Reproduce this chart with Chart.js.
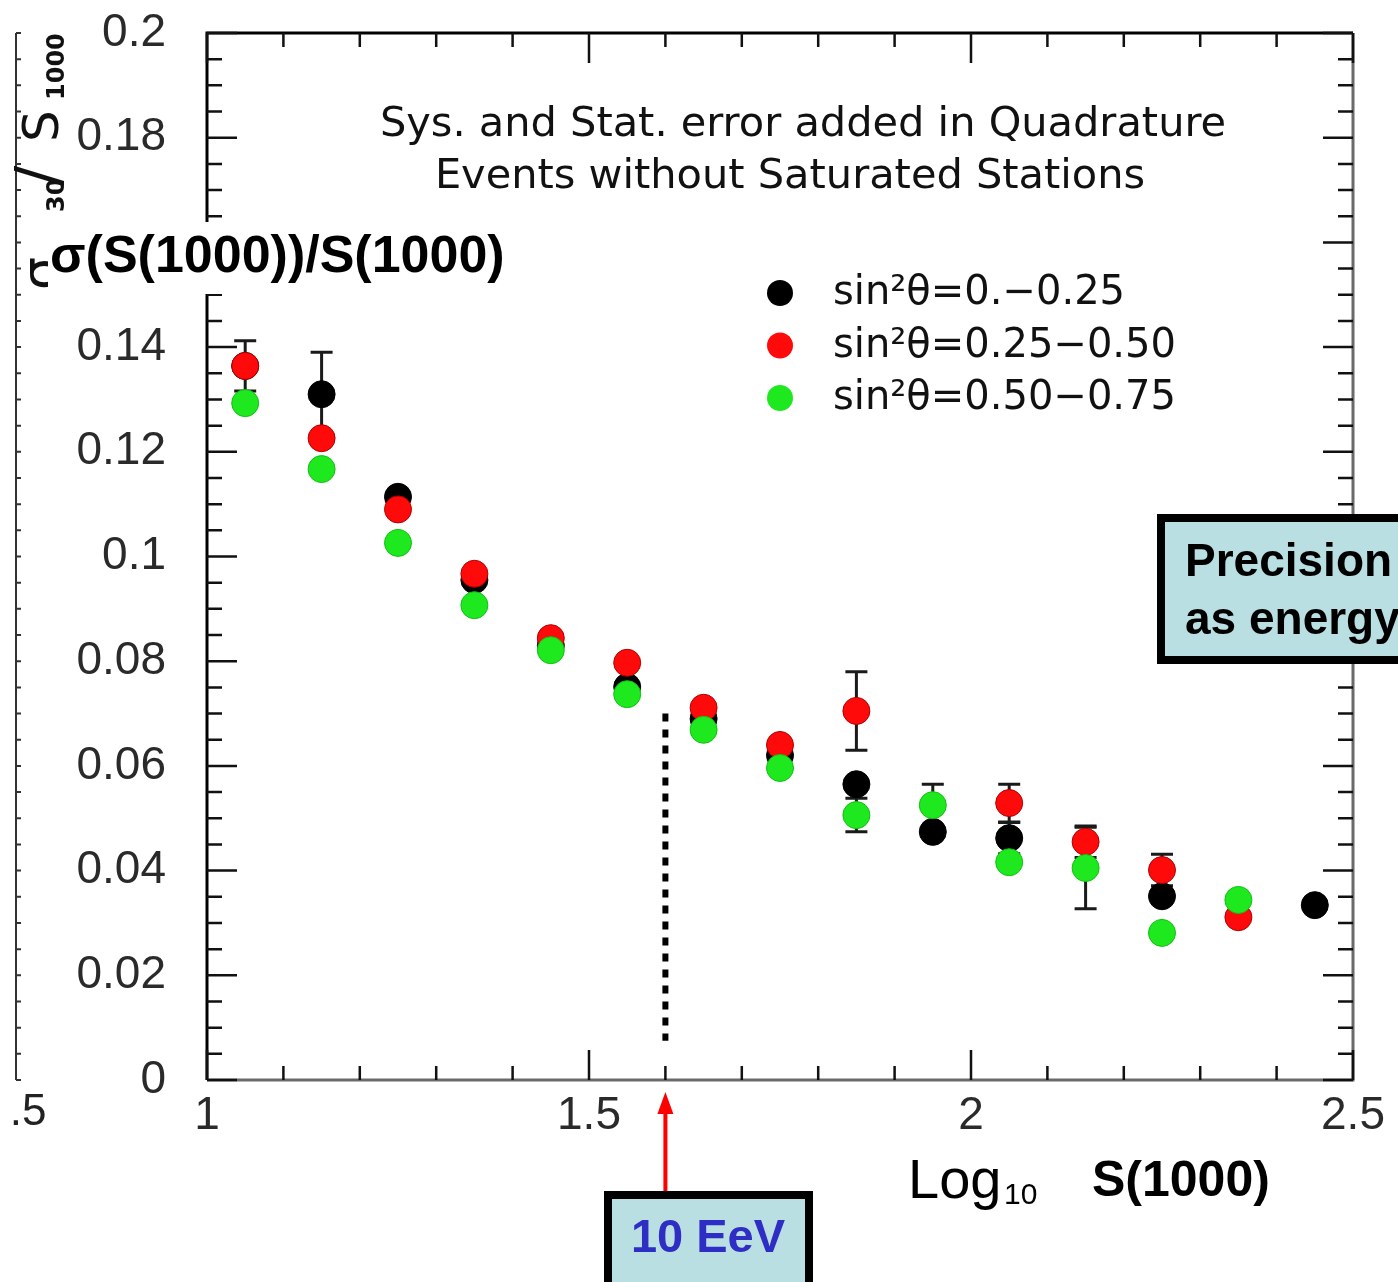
<!DOCTYPE html>
<html>
<head>
<meta charset="utf-8">
<script src="https://cdn.jsdelivr.net/npm/chart.js@4.4.0/dist/chart.umd.min.js"></script>
<style>
  html, body { margin: 0; padding: 0; background: #fff; overflow: hidden; }
</style>
</head>
<body>
<canvas id="chart" width="1398" height="1282"></canvas>
<script>
// log10 S(1000) bin centres
const logS = [1.05, 1.15, 1.25, 1.35, 1.45, 1.55, 1.65, 1.75, 1.85, 1.95, 2.05, 2.15, 2.25, 2.35, 2.45];

// sigma(S1000)/S1000 per zenith band (null = not visible)
const band1 = [0.1364, 0.1310, 0.1114, 0.0955, 0.0830, 0.0751, 0.0690, 0.0620, 0.0565, 0.0474, 0.0462, null, 0.0351, null, 0.0334];
const band2 = [0.1364, 0.1226, 0.1090, 0.0967, 0.0844, 0.0797, 0.0711, 0.0640, 0.0705, null, 0.0529, 0.0455, 0.0401, 0.0311, null];
const band3 = [0.1293, 0.1167, 0.1026, 0.0907, 0.0821, 0.0737, 0.0669, 0.0596, 0.0506, 0.0525, 0.0416, 0.0405, 0.0281, 0.0344, null];

// error bars that stick out of the markers
const band1Err = [0.0048, 0.0080, null, null, null, null, null, null, null, null, 0.0030, null, null, null, null];
const band2Err = [null, null, null, null, null, null, null, null, 0.0075, null, 0.0036, 0.0030, 0.0030, null, null];
const band3Err = [null, null, null, null, null, null, null, null, 0.0032, 0.0040, null, 0.0078, null, null, null];

const bandLabels = ["sin\u00b2\u03b8=0.\u22120.25", "sin\u00b2\u03b8=0.25\u22120.50", "sin\u00b2\u03b8=0.50\u22120.75"];
const bandColors = ["#000000", "#ff0a0a", "#1ee81e"];
const bandEdges = ["#000000", "#b00000", "#12c012"];

// 10 EeV marker position
const eevLogS = 1.6;
const eevTop = 0.07;
const eevBottom = 0.0075;

function points(vals) {
  return logS.map((s, i) => ({ x: s, y: vals[i] })).filter(p => p.y !== null);
}

const values = [band1, band2, band3];
const errors = [band1Err, band2Err, band3Err];

const errorBars = {
  id: "errorBars",
  beforeDatasetsDraw(chart) {
    const { ctx, scales: { x, y } } = chart;
    ctx.save();
    ctx.strokeStyle = "#1a1a1a";
    ctx.lineWidth = 3;
    values.forEach((vals, k) => {
      errors[k].forEach((e, i) => {
        if (e === null || vals[i] === null) return;
        const px = x.getPixelForValue(logS[i]);
        const top = y.getPixelForValue(vals[i] + e);
        const bot = y.getPixelForValue(vals[i] - e);
        ctx.beginPath();
        ctx.moveTo(px, top); ctx.lineTo(px, bot);
        ctx.moveTo(px - 11, top); ctx.lineTo(px + 11, top);
        ctx.moveTo(px - 11, bot); ctx.lineTo(px + 11, bot);
        ctx.stroke();
      });
    });
    ctx.restore();
  }
};

const frame = {
  id: "frame",
  beforeDatasetsDraw(chart) {
    const { ctx, chartArea: a, scales: { x, y } } = chart;
    ctx.save();
    ctx.lineWidth = 3;
    ctx.strokeStyle = "#000";
    ctx.beginPath();
    ctx.moveTo(a.left, a.bottom); ctx.lineTo(a.left, a.top); ctx.lineTo(a.right, a.top);
    ctx.stroke();
    ctx.strokeStyle = "#6a6a6a";
    ctx.beginPath();
    ctx.moveTo(a.left, a.bottom); ctx.lineTo(a.right, a.bottom); ctx.lineTo(a.right, a.top);
    ctx.stroke();

    ctx.lineWidth = 2.5;
    ctx.strokeStyle = "#111";
    for (let i = 0; i <= 15; i++) {
      const px = x.getPixelForValue(1 + i * 0.1);
      const len = i % 5 === 0 ? 30 : 14;
      ctx.beginPath();
      ctx.moveTo(px, a.bottom); ctx.lineTo(px, a.bottom - len);
      ctx.moveTo(px, a.top); ctx.lineTo(px, a.top + len);
      ctx.stroke();
    }
    for (let j = 0; j <= 40; j++) {
      const py = y.getPixelForValue(j * 0.005);
      const len = j % 4 === 0 ? 30 : 15;
      ctx.beginPath();
      ctx.moveTo(a.left, py); ctx.lineTo(a.left + len, py);
      ctx.moveTo(a.right, py); ctx.lineTo(a.right - len, py);
      ctx.stroke();
    }
    // remnant of the neighbouring panel on the far left
    ctx.lineWidth = 2;
    ctx.strokeStyle = "#333";
    ctx.beginPath();
    ctx.moveTo(16, a.top); ctx.lineTo(16, a.bottom);
    for (let j = 0; j <= 40; j++) {
      const py = y.getPixelForValue(j * 0.005);
      ctx.moveTo(16, py); ctx.lineTo(21, py);
    }
    ctx.stroke();
    ctx.restore();
  }
};

const overlay = {
  id: "overlay",
  afterDraw(chart) {
    const { ctx, chartArea: a, scales: { x, y } } = chart;
    ctx.save();

    // heading inside the frame
    ctx.fillStyle = "#111";
    ctx.font = "41.5px 'DejaVu Sans'";
    ctx.textAlign = "center";
    ctx.textBaseline = "middle";
    ctx.fillText("Sys. and Stat. error added in Quadrature", 803, 125);
    ctx.fillText("Events without Saturated Stations", 790, 177);

    // legend
    ctx.textAlign = "left";
    ctx.font = "40px 'DejaVu Sans'";
    bandLabels.forEach((lab, k) => {
      const ly = 293 + k * 52.5;
      ctx.beginPath();
      ctx.arc(780, ly, 13, 0, Math.PI * 2);
      ctx.fillStyle = bandColors[k];
      ctx.fill();
      ctx.fillStyle = "#111";
      ctx.fillText(lab, 833, ly + 1);
    });

    // 10 EeV dotted line
    const ex = x.getPixelForValue(eevLogS);
    ctx.strokeStyle = "#000";
    ctx.lineWidth = 6;
    ctx.setLineDash([8, 8]);
    ctx.beginPath();
    ctx.moveTo(ex, y.getPixelForValue(eevTop));
    ctx.lineTo(ex, y.getPixelForValue(eevBottom));
    ctx.stroke();
    ctx.setLineDash([]);

    // rotated original axis title, partly covered
    ctx.save();
    ctx.translate(58, 300);
    ctx.rotate(-Math.PI / 2);
    ctx.fillStyle = "#111";
    ctx.textAlign = "left";
    ctx.textBaseline = "alphabetic";
    ctx.font = "52px 'DejaVu Sans'";
    ctx.fillText("\u03c3", 10, 0);
    ctx.font = "bold 24px 'DejaVu Sans'";
    ctx.fillText("30", 88, 6);
    ctx.font = "60px 'DejaVu Sans'";
    ctx.fillText("/", 114, 0);
    ctx.font = "50px 'DejaVu Sans'";
    ctx.fillText("S", 158, 0);
    ctx.font = "bold 24px 'DejaVu Sans'";
    ctx.fillText("1000", 200, 6);
    ctx.restore();

    // y label over white patch
    ctx.fillStyle = "#fff";
    ctx.fillRect(48, 222, 478, 72);
    ctx.fillStyle = "#000";
    ctx.font = "bold 52px 'Liberation Sans'";
    ctx.textBaseline = "middle";
    ctx.fillText("\u03c3(S(1000))/S(1000)", 50, 258);

    // x title
    ctx.textBaseline = "alphabetic";
    ctx.font = "56px 'Liberation Sans'";
    ctx.fillText("Log", 908, 1198);
    ctx.font = "30px 'Liberation Sans'";
    ctx.fillText("10", 1004, 1204);
    ctx.font = "bold 50px 'Liberation Sans'";
    ctx.fillText("S(1000)", 1092, 1196);

    // stray ".5" label from the left panel
    ctx.font = "44px 'Liberation Sans'";
    ctx.fillStyle = "#222";
    ctx.textAlign = "center";
    ctx.textBaseline = "middle";
    ctx.fillText(".5", 28, 1113);

    // red arrow
    ctx.strokeStyle = "#ff0000";
    ctx.fillStyle = "#ff0000";
    ctx.lineWidth = 4;
    ctx.beginPath();
    ctx.moveTo(ex, 1192); ctx.lineTo(ex, 1110);
    ctx.stroke();
    ctx.beginPath();
    ctx.moveTo(ex, 1092); ctx.lineTo(ex - 8, 1114); ctx.lineTo(ex + 8, 1114);
    ctx.closePath();
    ctx.fill();

    // boxes
    function box(x0, y0, w, h) {
      ctx.fillStyle = "#b9dfe3";
      ctx.fillRect(x0, y0, w, h);
      ctx.strokeStyle = "#000";
      ctx.lineWidth = 8;
      ctx.strokeRect(x0 + 4, y0 + 4, w - 8, h - 8);
    }
    box(604, 1191, 209, 100);
    ctx.fillStyle = "#2e2ec4";
    ctx.font = "bold 47px 'Liberation Sans'";
    ctx.textAlign = "center";
    ctx.fillText("10 EeV", 708, 1239);

    box(1157, 514, 260, 150);
    ctx.fillStyle = "#000";
    ctx.textAlign = "left";
    ctx.font = "bold 46px 'Liberation Sans'";
    ctx.fillText("Precision", 1185, 563);
    ctx.fillText("as energy", 1185, 621);

    ctx.restore();
  }
};

const datasets = values.map((vals, k) => ({
  label: bandLabels[k],
  data: points(vals),
  backgroundColor: bandColors[k],
  borderColor: bandEdges[k],
  borderWidth: 1,
  pointRadius: 13.5,
  order: 3 - k
}));

const plainNumber = v => String(Number(v.toFixed(3)));

new Chart(document.getElementById("chart"), {
  type: "scatter",
  data: { datasets },
  plugins: [frame, errorBars, overlay],
  options: {
    responsive: false,
    animation: false,
    events: [],
    layout: { padding: { top: 33, right: 45, left: 0, bottom: 0 } },
    plugins: { legend: { display: false }, tooltip: { enabled: false } },
    scales: {
      x: {
        type: "linear",
        min: 1, max: 2.5,
        grid: { display: false, drawTicks: false },
        border: { display: false },
        ticks: {
          stepSize: 0.5, padding: 9, color: "#2a2a2a",
          font: { family: "Liberation Sans", size: 46 },
          callback: plainNumber
        },
        afterFit(scale) {
          scale.height = 202;
          scale.paddingLeft = 0;
          scale.paddingRight = 0;
        }
      },
      y: {
        type: "linear",
        min: 0, max: 0.2,
        grid: { display: false, drawTicks: false },
        border: { display: false },
        ticks: {
          stepSize: 0.02, padding: 41, color: "#2a2a2a",
          font: { family: "Liberation Sans", size: 46 },
          callback: plainNumber
        },
        afterFit(scale) {
          scale.width = 207;
          scale.paddingTop = 0;
          scale.paddingBottom = 0;
        }
      }
    }
  }
});
</script>
</body>
</html>
